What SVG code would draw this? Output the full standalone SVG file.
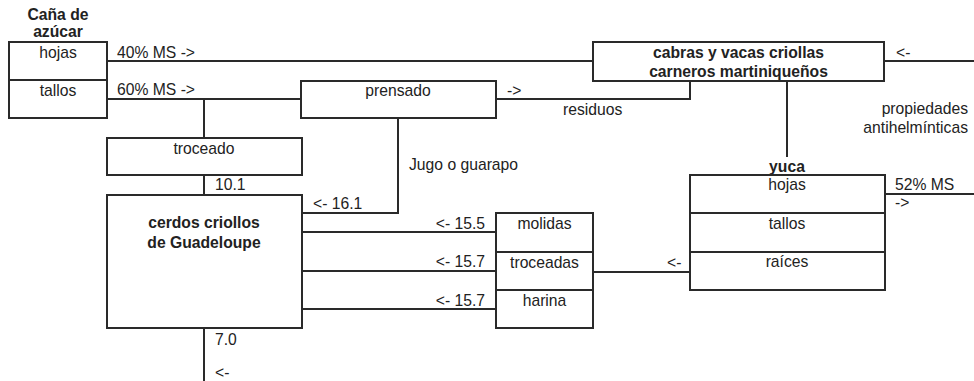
<svg xmlns="http://www.w3.org/2000/svg" width="974" height="381" viewBox="0 0 974 381">
<style>
text{font-family:"Liberation Sans",Arial,sans-serif;font-size:15.7px;fill:#222}
.b{font-weight:bold}
.c{text-anchor:middle}
.e{text-anchor:end}
.box,.ln{fill:none;stroke:#2a2a2a;stroke-width:2}
</style>
<rect x="0" y="0" width="974" height="381" fill="#fff"/>
<g id="connectors">
<path class="ln" d="M107,61H593"/>
<path class="ln" d="M107,99H301"/>
<path class="ln" d="M204,99V138"/>
<path class="ln" d="M204,175V195"/>
<path class="ln" d="M204,328V381"/>
<path class="ln" d="M496,99H690V81"/>
<path class="ln" d="M398,118V213H302"/>
<path class="ln" d="M884,61H974"/>
<path class="ln" d="M787,81V157"/>
<path class="ln" d="M885,194H974"/>
<path class="ln" d="M302,232H496"/>
<path class="ln" d="M302,271H496"/>
<path class="ln" d="M302,309H496"/>
<path class="ln" d="M593,272H690"/>
</g>
<g id="labels">
<text x="117" y="58">40% MS -&gt;</text>
<text x="117" y="95">60% MS -&gt;</text>
<text x="215" y="190">10.1</text>
<text x="215" y="345">7.0</text>
<text x="215" y="378">&lt;-</text>
<text x="507" y="96">-&gt;</text>
<text x="563" y="115">residuos</text>
<text x="409" y="170">Jugo o guarapo</text>
<text x="313" y="209">&lt;- 16.1</text>
<text x="896" y="58">&lt;-</text>
<text class="e" x="968" y="114">propiedades</text>
<text class="e" x="968" y="133">antihelmínticas</text>
<text x="895" y="190">52% MS</text>
<text x="895" y="208">-&gt;</text>
<text class="e" x="485" y="229">&lt;- 15.5</text>
<text class="e" x="485" y="267">&lt;- 15.7</text>
<text class="e" x="485" y="306">&lt;- 15.7</text>
<text x="667" y="268">&lt;-</text>
</g>
<g id="cana">
<text class="b c" x="58" y="20">Caña de</text>
<text class="b c" x="58" y="37">azúcar</text>
<rect class="box" x="9" y="42" width="98" height="76"/>
<path class="ln" d="M9,80H107"/>
<text class="c" x="58" y="58">hojas</text>
<text class="c" x="58" y="96">tallos</text>
</g>
<g id="troceado">
<rect class="box" x="107" y="138" width="195" height="37"/>
<text class="c" x="204" y="154">troceado</text>
</g>
<g id="cerdos">
<rect class="box" x="107" y="195" width="195" height="133"/>
<text class="b c" x="204" y="228">cerdos criollos</text>
<text class="b c" x="204" y="248">de Guadeloupe</text>
</g>
<g id="prensado">
<rect class="box" x="301" y="81" width="195" height="37"/>
<text class="c" x="398" y="96">prensado</text>
</g>
<g id="cabras">
<rect class="box" x="593" y="42" width="291" height="39"/>
<text class="b c" x="738.5" y="58">cabras y vacas criollas</text>
<text class="b c" x="738.5" y="77">carneros martiniqueños</text>
</g>
<g id="yuca">
<text class="b c" x="787" y="172">yuca</text>
<rect class="box" x="690" y="175" width="195" height="115"/>
<path class="ln" d="M690,213H885M690,252H885"/>
<text class="c" x="787" y="190">hojas</text>
<text class="c" x="787" y="229">tallos</text>
<text class="c" x="787" y="267">raíces</text>
</g>
<g id="yuca-forms">
<rect class="box" x="496" y="213" width="97" height="115"/>
<path class="ln" d="M496,252H593M496,290H593"/>
<text class="c" x="544.5" y="229">molidas</text>
<text class="c" x="544.5" y="268">troceadas</text>
<text class="c" x="544.5" y="306">harina</text>
</g>
</svg>
